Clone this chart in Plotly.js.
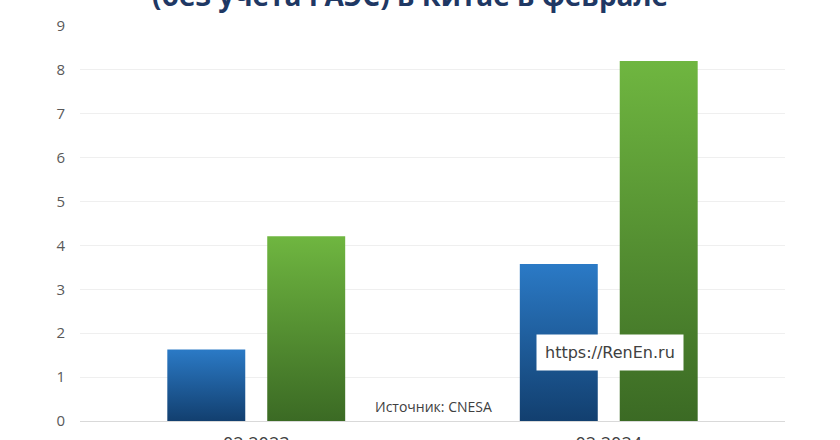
<!DOCTYPE html>
<html>
<head>
<meta charset="utf-8">
<script src="https://cdn.plot.ly/plotly-3.0.1.min.js"></script>
<style>
html,body{margin:0;padding:0;background:#fff;}
#chart{width:840px;height:440px;}
</style>
</head>
<body>
<div id="chart"></div>
<script>
const categories = ["02.2023", "02.2024"];
const seriesA = [1.63, 3.58];
const seriesB = [4.21, 8.2];
const yTicks = [0,1,2,3,4,5,6,7,8,9];
const titleText = "(без учета ГАЭС) в Китае в феврале";
const sourceText = "Источник: CNESA";
const siteText = "https://RenEn.ru";

const traces = [
  {type:'bar', x:categories, y:seriesA, name:'A', marker:{color:'#1f5fa0'}, hoverinfo:'none'},
  {type:'bar', x:categories, y:seriesB, name:'B', marker:{color:'#52883a'}, hoverinfo:'none'}
];

const layout = {
  width:840, height:440,
  margin:{l:80, r:55, t:26, b:19},
  paper_bgcolor:'#ffffff', plot_bgcolor:'#ffffff',
  showlegend:false,
  barmode:'group', bargap:0.433, bargroupgap:0.22,
  font:{family:'Open Sans, DejaVu Sans, sans-serif', color:'#595959'},
  xaxis:{
    type:'category', showgrid:false, zeroline:false, showline:false,
    ticks:'', tickfont:{size:18, color:'#404040'}, ticklabelstandoff:10
  },
  yaxis:{
    range:[0,9], tickvals:yTicks, ticktext:yTicks.map(String),
    showgrid:true, gridcolor:'#efefef', gridwidth:1,
    zeroline:true, zerolinecolor:'#d9d9d9', zerolinewidth:1,
    showline:false, ticks:'', tickfont:{size:15, color:'#595959'},
    ticklabelstandoff:14, fixedrange:true
  },
  annotations:[
    {text:'<b>'+titleText+'</b>', xref:'paper', yref:'paper', x:0.468, y:1.0, yshift:10,
     xanchor:'center', yanchor:'bottom', showarrow:false,
     font:{size:28, color:'#1f3864', family:'Open Sans, DejaVu Sans, sans-serif'}},
    {text:sourceText, xref:'paper', yref:'paper', x:0.502, y:0.0, yshift:3,
     xanchor:'center', yanchor:'bottom', showarrow:false,
     font:{size:14, color:'#404040', family:'Open Sans, DejaVu Sans, sans-serif'}},
    {text:siteText, xref:'x', yref:'y', x:1, y:1.55, xshift:1,
     xanchor:'center', yanchor:'middle', showarrow:false, bgcolor:'#ffffff',
     borderpad:8,
     font:{size:16, color:'#404040', family:'DejaVu Sans, sans-serif'}}
  ]
};

Plotly.newPlot('chart', traces, layout, {staticPlot:true}).then(function(gd){
  const svg = gd.querySelector('svg.main-svg');
  const ns = 'http://www.w3.org/2000/svg';
  let defs = svg.querySelector('defs');
  if(!defs){ defs = document.createElementNS(ns,'defs'); svg.insertBefore(defs, svg.firstChild); }
  function grad(id, top, bottom){
    const g = document.createElementNS(ns,'linearGradient');
    g.setAttribute('id', id);
    g.setAttribute('x1','0'); g.setAttribute('y1','0');
    g.setAttribute('x2','0'); g.setAttribute('y2','1');
    const s1 = document.createElementNS(ns,'stop'); s1.setAttribute('offset','0'); s1.setAttribute('stop-color',top);
    const s2 = document.createElementNS(ns,'stop'); s2.setAttribute('offset','1'); s2.setAttribute('stop-color',bottom);
    g.appendChild(s1); g.appendChild(s2); defs.appendChild(g);
  }
  grad('gBlue', '#2b7ac6', '#123f6f');
  grad('gGreen', '#6fb640', '#3b6a24');
  const tr = gd.querySelectorAll('.barlayer .trace');
  const ids = ['gBlue','gGreen'];
  tr.forEach(function(t,i){
    t.querySelectorAll('path').forEach(function(p){ p.style.fill = 'url(#'+ids[i]+')'; });
  });
});
</script>
</body>
</html>
